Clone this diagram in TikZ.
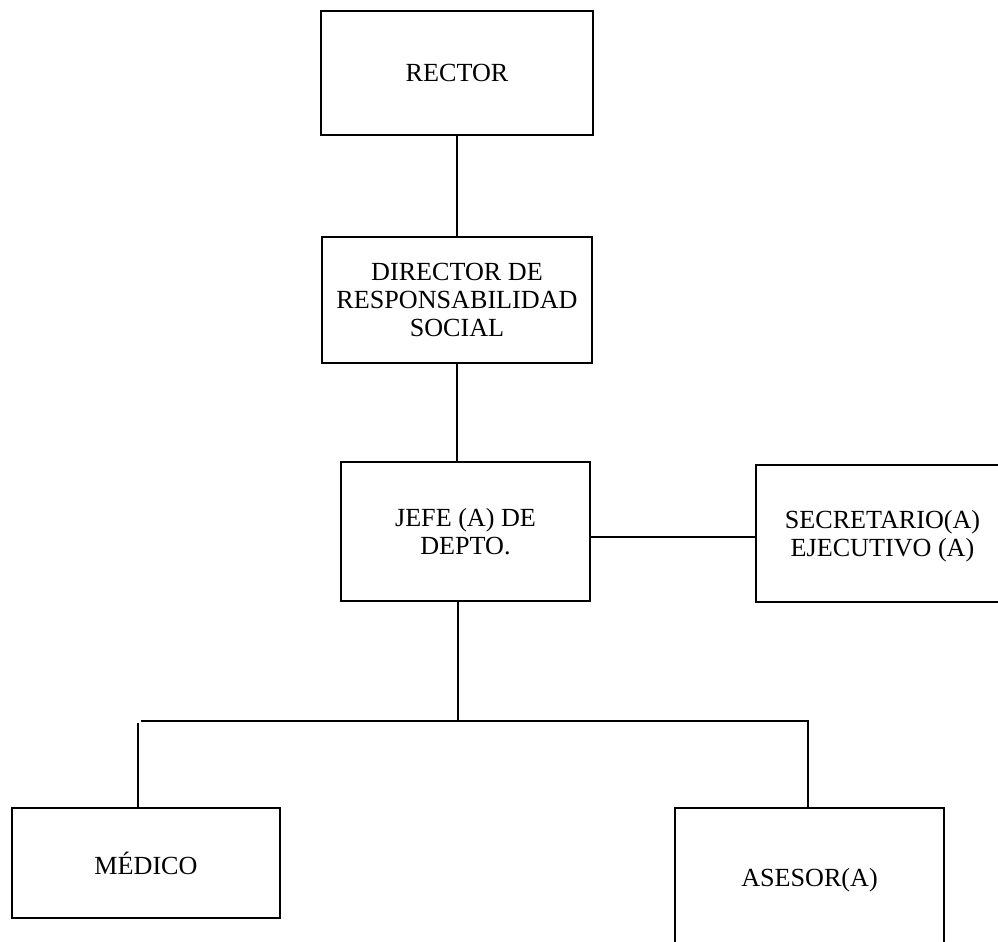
\documentclass[tikz,border=0pt]{standalone}
\usepackage{fontspec}
\setmainfont{Liberation Serif}
\usepackage{tikz}

\tikzset{
  cargo/.style={draw, line width=2.2pt, inner sep=0.75pt, align=center,
    font=\fontsize{19.6}{21}\selectfont},
  enlace/.style={line width=1pt}
}

\begin{document}
\begin{tikzpicture}[x=0.75pt,y=0.75pt,yscale=-1,xscale=1]
        \useasboundingbox (0,0) rectangle (998,941);
        \clip (0,0) rectangle (998,941);

        %Shape: Rectangle [rector]
        \node [cargo, minimum width=272*0.75pt, minimum height=124*0.75pt] (rector) at (457,73) {RECTOR};
        %Shape: Rectangle [director]
        \node [cargo, minimum width=270*0.75pt, minimum height=126*0.75pt] (director) at (457,300) {DIRECTOR DE\\RESPONSABILIDAD\\SOCIAL};
        %Shape: Rectangle [jefe]
        \node [cargo, minimum width=249*0.75pt, minimum height=139*0.75pt] (jefe) at (465.5,531.5) {JEFE (A) DE\\DEPTO.};
        %Shape: Rectangle [secretario]
        \node [cargo, minimum width=253*0.75pt, minimum height=137*0.75pt, text depth=0.6pt] (secretario) at (882.5,533.5) {SECRETARIO(A)\\EJECUTIVO (A)};
        %Shape: Rectangle [medico]
        \node [cargo, minimum width=268*0.75pt, minimum height=110*0.75pt] (medico) at (146,863) {MÉDICO};
        %Shape: Rectangle [asesor]
        \node [cargo, minimum width=269*0.75pt, minimum height=144*0.75pt] (asesor) at (809.5,880) {ASESOR(A)};

        %Straight Lines [enlaces]
        \coordinate (nivelSec) at (600,537);
        \coordinate (bajada) at (458,721);
        \coordinate (barraIzq) at (141,721);
        \coordinate (barraDer) at (808,721);
        \coordinate (ramaMed) at (138,723);
        \draw [enlace] (rector.south) -- (director.north);
        \draw [enlace] (director.south) -- (director.south |- jefe.north);
        \draw [enlace] (jefe.east |- nivelSec) -- (secretario.west |- nivelSec);
        \draw [enlace] (bajada |- jefe.south) -- (bajada);
        \draw [enlace] (barraIzq) -- (barraDer) -- (barraDer |- asesor.north);
        \draw [enlace] (ramaMed) -- (ramaMed |- medico.north);

\end{tikzpicture}
\end{document}
